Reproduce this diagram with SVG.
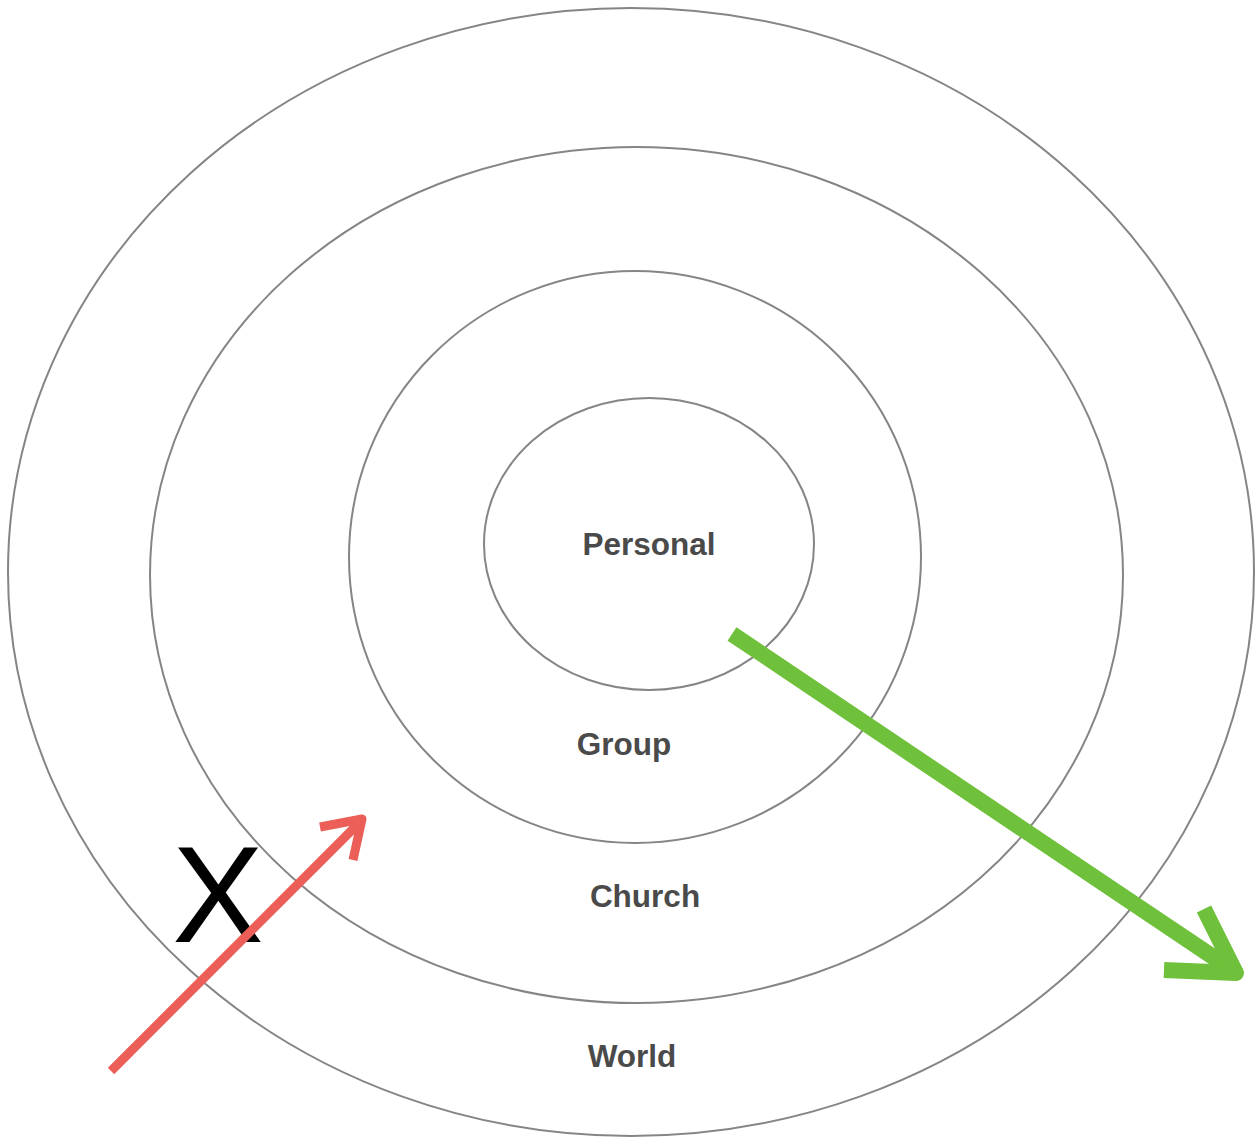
<svg xmlns="http://www.w3.org/2000/svg" width="1258" height="1137" viewBox="0 0 1258 1137">
<style>
.ring{fill:none;stroke:#858488;stroke-width:2}
.lbl{font-family:"Liberation Sans",Arial,sans-serif;font-weight:bold;font-size:31.5px;fill:#4a4a4a;text-anchor:middle}
</style>
<rect width="1258" height="1137" fill="#ffffff"/>
<g id="world"><ellipse class="ring" cx="631" cy="572" rx="623" ry="564"/><text class="lbl" x="632" y="1067">World</text></g>
<g id="church"><ellipse class="ring" cx="636.5" cy="575" rx="486.5" ry="428"/><text class="lbl" x="645" y="907">Church</text></g>
<g id="group"><ellipse class="ring" cx="635" cy="557" rx="286" ry="286"/><text class="lbl" x="624" y="755">Group</text></g>
<g id="personal"><ellipse class="ring" cx="649" cy="544" rx="165" ry="146"/><text class="lbl" x="649" y="555">Personal</text></g>
<g id="x-mark"><text x="218" y="942" font-family="Liberation Sans,Arial,sans-serif" font-size="137" fill="#000000" text-anchor="middle">X</text></g>
<g id="connectors">
<g fill="none" stroke="#eb5f58" stroke-width="9" stroke-linejoin="round">
<line x1="111" y1="1071" x2="362" y2="820"/>
<polyline points="320,827 362,819 353,860"/>
</g>
<g fill="none" stroke="#6fc03a" stroke-width="16" stroke-linejoin="round">
<line x1="732" y1="634" x2="1234" y2="971"/>
<polyline points="1164,970 1236,973 1204,909"/>
</g>
</g>
</svg>
